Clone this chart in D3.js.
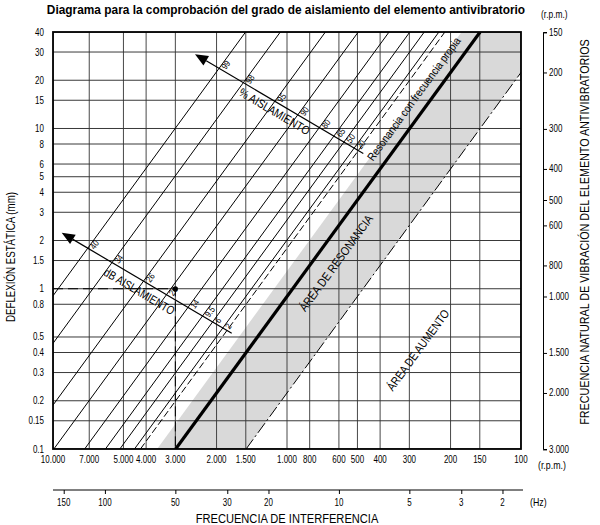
<!DOCTYPE html>
<html><head><meta charset="utf-8">
<script src="https://cdn.jsdelivr.net/npm/d3@7"></script>
<style>
body{margin:0;background:#fff}
text{font-family:"Liberation Sans",Arial,sans-serif;fill:#000}
</style>
</head><body><svg id="c" width="600" height="525"></svg>
<script>
// ---------- data ----------
const deflectionTicks = [0.1,0.15,0.2,0.3,0.4,0.5,0.8,1,1.5,2,3,4,5,6,8,10,15,20,30,40];
const deflectionLabels = ["0.1","0.15","0.2","0.3","0.4","0.5","0.8","1","1.5","2","3","4","5","6","8","10","15","20","30","40"];
const rpmTicks = [10000,7000,5000,4000,3000,2000,1500,1000,800,600,500,400,300,200,150,100];
const rpmLabels = ["10.000","7.000","5.000","4.000","3.000","2.000","1.500","1.000","800","600","500","400","300","200","150","100"];
const hzTicks = [150,100,50,30,20,10,5,3,2];
const naturalRpmTicks = [150,200,300,400,500,600,800,1000,1500,2000,3000];
const naturalRpmLabels = ["150","200","300","400","500","600","800","1.000","1.500","2.000","3.000"];
const transmissibility = [0.01,0.02,0.05,0.1,0.2,0.335,0.5,0.8];
const isolationPctLabels = ["99","98","95","90","80","65","50","20"];
const isolationDbLabels = ["40","34","26","20","14","9.5","6","2"];
const unityRatio = Math.SQRT2;          // T = 1 (dashed line)
const resonanceBand = [1.2, 0.5];       // f/fn limits of grey band
const resonanceRatio = 1;               // thick line
const exampleDeflection = 1, exampleRpm = 3000;
// arrow scale lines, [rpm, deflection] end points
const dbScaleLine = [[9180, 2.235],[1723, 0.527]];
const pctScaleLine = [[2472, 29.1],[472, 6.99]];

// ---------- setup ----------
const svg = d3.select("#c");
const P = {l:53, r:521, t:32, b:449};
const x = d3.scaleLog().domain([10000,100]).range([P.l,P.r]);
const y = d3.scaleLog().domain([0.1,40]).range([P.b,P.t]);
const G = 9810;
const natRpm = d => 60/(2*Math.PI)*Math.sqrt(G/d);
const yNat = d3.scaleLog().domain([natRpm(0.1), natRpm(40)]).range([P.b,P.t]);
const xHz = d3.scaleLog().domain([10000/60, 100/60]).range([P.l,P.r]);

// condensed text helper (scaleX gives the narrow look of the original)
function ntext(o, txt){
  const g = svg.append("g");
  const t = g.append("text").attr("font-size",o.size).attr("text-anchor",o.anchor||"start")
    .attr("font-weight",o.weight||null).attr("dy",o.dy||null).attr("x",o.lx||0).attr("y",o.ly||0).text(txt);
  let s = o.sx || 0.8;
  if (o.len) s = o.len / t.node().getComputedTextLength();
  g.attr("transform",`translate(${o.x},${o.y}) rotate(${o.rot||0}) scale(${s},1)`);
  return g;
}

svg.append("defs").append("clipPath").attr("id","clip")
  .append("rect").attr("x",P.l).attr("y",P.t).attr("width",P.r-P.l).attr("height",P.b-P.t);

const diag = r => [0.1,40].map(d => [x(r*natRpm(d)), y(d)]);
const line = d3.line();
const plotG = svg.append("g").attr("clip-path","url(#clip)");

// grey resonance band
plotG.append("path")
  .attr("d", line([...diag(resonanceBand[0]), ...diag(resonanceBand[1]).reverse()]) + "Z")
  .attr("fill","#d9d9d9");

// grid
plotG.selectAll(".hg").data(deflectionTicks).enter().append("line")
  .attr("x1",P.l).attr("x2",P.r).attr("y1",d=>y(d)).attr("y2",d=>y(d))
  .attr("stroke","#222").attr("stroke-width",0.9);
plotG.selectAll(".vg").data(rpmTicks).enter().append("line")
  .attr("y1",P.t).attr("y2",P.b).attr("x1",d=>x(d)).attr("x2",d=>x(d))
  .attr("stroke","#333").attr("stroke-width",0.9);

// isolation lines
const ratios = transmissibility.map(T => Math.sqrt(1+1/T));
plotG.selectAll(".iso").data(ratios).enter().append("path")
  .attr("d", r => line(diag(r))).attr("stroke","#000").attr("stroke-width",1).attr("fill","none");
plotG.append("path").attr("d", line(diag(unityRatio)))
  .attr("stroke","#000").attr("stroke-width",1).attr("stroke-dasharray","7,3").attr("fill","none");
plotG.append("path").attr("d", line(diag(resonanceBand[1])))
  .attr("stroke","#000").attr("stroke-width",1).attr("stroke-dasharray","12,3,2,3").attr("fill","none");
plotG.append("path").attr("d", line(diag(resonanceRatio)))
  .attr("stroke","#000").attr("stroke-width",3.2).attr("fill","none");

// example reading
plotG.append("path").attr("d", line([[x(10000),y(exampleDeflection)],[x(exampleRpm),y(exampleDeflection)],[x(exampleRpm),y(0.1)]]))
  .attr("stroke","#000").attr("stroke-width",1).attr("stroke-dasharray","10,5").attr("fill","none");
plotG.append("circle").attr("cx",x(exampleRpm)).attr("cy",y(exampleDeflection)).attr("r",2.6).attr("fill","#000");

// frame
svg.append("rect").attr("x",P.l).attr("y",P.t).attr("width",P.r-P.l).attr("height",P.b-P.t)
  .attr("fill","none").attr("stroke","#000").attr("stroke-width",1.8);

// ---------- arrow scales ----------
const diagAngle = (() => { const p = diag(1); return Math.atan2(p[1][1]-p[0][1], p[1][0]-p[0][0])*180/Math.PI; })();
function intersect(A,B,C,D){
  const d = (A[0]-B[0])*(C[1]-D[1]) - (A[1]-B[1])*(C[0]-D[0]);
  const t = ((A[0]-C[0])*(C[1]-D[1]) - (A[1]-C[1])*(C[0]-D[0]))/d;
  return [A[0]+t*(B[0]-A[0]), A[1]+t*(B[1]-A[1])];
}
function arrowScale(ends, labels, title, tPos, off, tlen){
  const A = [x(ends[0][0]), y(ends[0][1])], B = [x(ends[1][0]), y(ends[1][1])];
  const len = Math.hypot(B[0]-A[0], B[1]-A[1]);
  const u = [(B[0]-A[0])/len, (B[1]-A[1])/len], n = [-u[1], u[0]];
  const hl = 13, hw = 5.5;
  const base = [A[0]+u[0]*hl, A[1]+u[1]*hl];
  svg.append("path").attr("d", line([base, B])).attr("stroke","#000").attr("stroke-width",1.2);
  svg.append("path").attr("d", line([A, [base[0]+n[0]*hw, base[1]+n[1]*hw], [base[0]-n[0]*hw, base[1]-n[1]*hw]])+"Z").attr("fill","#000");
  ratios.forEach((r,i) => {
    const p = diag(r);
    const I = intersect(A,B,p[0],p[1]);
    ntext({x:I[0], y:I[1], rot:diagAngle, size:9, lx:3, ly:6.5, sx:0.85}, labels[i]);
  });
  const ang = Math.atan2(u[1],u[0])*180/Math.PI;
  const c = [A[0]+(B[0]-A[0])*tPos - n[0]*off, A[1]+(B[1]-A[1])*tPos - n[1]*off];
  ntext({x:c[0], y:c[1], rot:ang, size:12, anchor:"middle", dy:"0.35em", len:tlen}, title);
}
arrowScale(pctScaleLine, isolationPctLabels, "% AISLAMIENTO", 0.5, -9, 80);
arrowScale(dbScaleLine, isolationDbLabels, "dB AISLAMIENTO", 0.49, -11, 80);

// ---------- diagonal annotations ----------
ntext({x:x(617), y:y(1.446), rot:diagAngle, size:12, anchor:"middle", dy:"0.35em", len:116}, "ÁREA DE RESONANCIA");
ntext({x:x(275.6), y:y(0.4146), rot:diagAngle, size:12, anchor:"middle", dy:"0.35em", len:97}, "ÁREA DE AUMENTO");
ntext({x:x(429), y:y(6.2), rot:diagAngle, size:11.5, len:150}, "Resonancia con frecuencia propia");

// ---------- axes ----------
deflectionTicks.forEach((d,i) => ntext({x:44, y:y(d), size:10, anchor:"end", dy:"0.35em"}, deflectionLabels[i]));
rpmTicks.forEach((d,i) => ntext({x:x(d), y:463, size:10, anchor:"middle"}, rpmLabels[i]));
ntext({x:538, y:469, size:11}, "(r.p.m.)");

// Hz axis
const hzG = svg.append("g").attr("transform","translate(0,490)");
hzG.call(d3.axisBottom(xHz).tickValues(hzTicks).tickSize(4).tickFormat(""));
hzG.select(".domain").attr("d",`M${P.l},0H${P.r+2}`).attr("stroke","#000");
hzTicks.forEach(h => ntext({x:xHz(h), y:506, size:10, anchor:"middle"}, String(h)));
ntext({x:530, y:506, size:11}, "(Hz)");

// right natural-frequency axis
const rG = svg.append("g").attr("transform","translate(543,0)");
rG.call(d3.axisRight(yNat).tickValues(naturalRpmTicks).tickSize(4).tickFormat(""));
rG.select(".domain").attr("stroke","#000");
naturalRpmTicks.forEach((v,i) => ntext({x:549, y:yNat(v), size:10, dy:"0.35em"}, naturalRpmLabels[i]));
ntext({x:541, y:18, size:10.5}, "(r.p.m.)");

// titles
ntext({x:286, y:14, size:13, weight:"bold", anchor:"middle", len:479},
  "Diagrama para la comprobación del grado de aislamiento del elemento antivibratorio");
ntext({x:15, y:257, rot:-90, size:12, anchor:"middle", len:130}, "DEFLEXIÓN ESTÁTICA (mm)");
ntext({x:589, y:232, rot:-90, size:12, anchor:"middle", len:386},
  "FRECUENCIA NATURAL DE VIBRACIÓN DEL ELEMENTO ANTIVIBRATORIOS");
ntext({x:287, y:523, size:13, anchor:"middle", len:183}, "FRECUENCIA DE INTERFERENCIA");
</script></body></html>
